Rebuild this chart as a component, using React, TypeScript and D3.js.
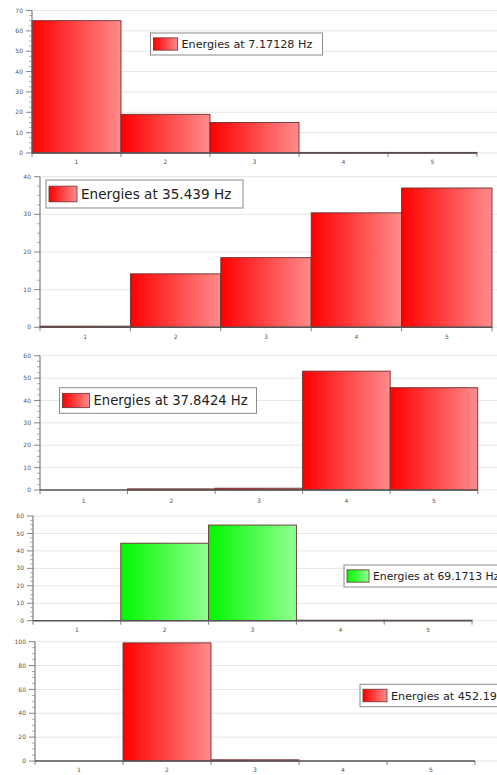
import React from "react";
import * as d3 from "d3";

const CATEGORIES = ["1", "2", "3", "4", "5"];
const VALUES_A = [65, 19, 15, 0.3, 0.3];
const VALUES_B = [0.3, 14.2, 18.5, 30.4, 37];
const VALUES_C = [0, 0.5, 0.8, 53.1, 45.7];
const VALUES_D = [0, 44.4, 54.8, 0.3, 0.3];
const VALUES_E = [0, 99, 1, 0, 0];
const SERIES = [VALUES_A, VALUES_B, VALUES_C, VALUES_D, VALUES_E];
const LEGEND_LABELS = [
  "Energies at 7.17128 Hz",
  "Energies at 35.439 Hz",
  "Energies at 37.8424 Hz",
  "Energies at 69.1713 Hz",
  "Energies at 452.19 Hz",
];
const Y_MAX = [70, 40, 60, 60, 100];
const Y_STEP = [10, 10, 10, 10, 20];
const SERIES_COLOR = ["red", "red", "red", "green", "red"];

// layout (pixels) per panel
const LAYOUT = [
  { x0: 32, x1: 477, yTop: 10.5, yBase: 153, lx: 150.5, ly: 33, lw: 172, lh: 22, fs: 11.2, sw: 24, labY: 164 },
  { x0: 40, x1: 492, yTop: 176.7, yBase: 327.3, lx: 46, ly: 180, lw: 197, lh: 28, fs: 13.6, sw: 28, labY: 339 },
  { x0: 40, x1: 477.7, yTop: 355.7, yBase: 490, lx: 59.5, ly: 387.7, lw: 197, lh: 25.6, fs: 13.2, sw: 27, labY: 502.5 },
  { x0: 33, x1: 472, yTop: 516, yBase: 620.7, lx: 344, ly: 565, lw: 200, lh: 22, fs: 10.8, sw: 22, labY: 631.5 },
  { x0: 35, x1: 475, yTop: 641.7, yBase: 761, lx: 360, ly: 684.3, lw: 200, lh: 22.4, fs: 11.2, sw: 24, labY: 771.5 },
];

const GRAD = {
  red: ["#ff0000", "#ff8c8c"],
  green: ["#00f800", "#92ff92"],
};

function Panel({ idx }: { idx: number }) {
  const L = LAYOUT[idx];
  const values = SERIES[idx];
  const max = Y_MAX[idx];
  const step = Y_STEP[idx];
  const color = SERIES_COLOR[idx];
  const x = d3.scaleBand<string>().domain(CATEGORIES).range([L.x0, L.x1]).padding(0);
  const y = d3.scaleLinear().domain([0, max]).range([L.yBase, L.yTop]);
  const majors = d3.range(0, max + step / 2, step);
  const minors = d3.range(0, max + 0.001, step / 4).filter((v) => !majors.some((m) => Math.abs(m - v) < 1e-6));
  const gid = `g${idx}`;
  const tickFs = 6;
  return (
    <g>
      {/* gridlines */}
      {majors.map((m) => (
        <line key={"g" + m} x1={L.x0} x2={497} y1={y(m)} y2={y(m)} stroke="#e6e6e6" strokeWidth={1} />
      ))}
      {/* bars */}
      {values.map((v, i) => (
        <rect
          key={"b" + i}
          x={x(CATEGORIES[i])!}
          y={y(v)}
          width={x.bandwidth()}
          height={Math.max(0, y(0) - y(v))}
          fill={`url(#${gid})`}
          stroke="#6a3030"
          strokeWidth={0.9}
        />
      ))}
      {/* y axis */}
      <line x1={L.x0} x2={L.x0} y1={L.yTop} y2={L.yBase} stroke="#666" strokeWidth={1} />
      {majors.map((m) => (
        <g key={"yt" + m}>
          <line x1={L.x0 - 6} x2={L.x0} y1={y(m)} y2={y(m)} stroke="#666" strokeWidth={0.8} />
          <text x={L.x0 - 9} y={y(m)} dy="0.35em" textAnchor="end" fontSize={tickFs} fill="#555" fontFamily="DejaVu Sans, sans-serif">
            {m}
          </text>
        </g>
      ))}
      {minors.map((m) => (
        <line key={"ym" + m} x1={L.x0 - 3} x2={L.x0} y1={y(m)} y2={y(m)} stroke="#777" strokeWidth={0.6} />
      ))}
      {/* x axis */}
      <line x1={L.x0} x2={L.x1} y1={L.yBase} y2={L.yBase} stroke="#555" strokeWidth={1.4} />
      {CATEGORIES.map((c, i) => (
        <g key={"xt" + c}>
          <line x1={x(c)! + x.bandwidth()} x2={x(c)! + x.bandwidth()} y1={L.yBase} y2={L.yBase + 4} stroke="#666" strokeWidth={0.8} />
          {i === 0 && <line x1={x(c)!} x2={x(c)!} y1={L.yBase} y2={L.yBase + 4} stroke="#666" strokeWidth={0.8} />}
          <text x={x(c)! + x.bandwidth() / 2} y={L.labY} textAnchor="middle" fontSize={tickFs} fill="#555" fontFamily="DejaVu Sans, sans-serif">
            {c}
          </text>
        </g>
      ))}
      {/* legend */}
      <rect x={L.lx} y={L.ly} width={L.lw} height={L.lh} fill="#fff" stroke="#8a8a8a" strokeWidth={1} />
      <rect
        x={L.lx + 3}
        y={L.ly + L.lh * 0.22}
        width={L.sw}
        height={L.lh * 0.56}
        fill={`url(#${gid})`}
        stroke="#6a3030"
        strokeWidth={0.8}
      />
      <text
        x={L.lx + L.sw + 7}
        y={L.ly + L.lh / 2}
        dy="0.36em"
        fontSize={L.fs}
        fill="#222"
        fontFamily="DejaVu Sans, Verdana, sans-serif"
      >
        {LEGEND_LABELS[idx]}
      </text>
      <defs>
        <linearGradient id={gid} x1="0" x2="1" y1="0" y2="0">
          <stop offset="0%" stopColor={GRAD[color][0]} />
          <stop offset="100%" stopColor={GRAD[color][1]} />
        </linearGradient>
      </defs>
    </g>
  );
}

export default function App() {
  return (
    <div style={{ position: "absolute", left: 0, top: 0 }}>
      <svg width={497} height={775} style={{ display: "block", background: "#fff" }}>
        {LAYOUT.map((_, i) => (
          <Panel key={i} idx={i} />
        ))}
      </svg>
    </div>
  );
}
